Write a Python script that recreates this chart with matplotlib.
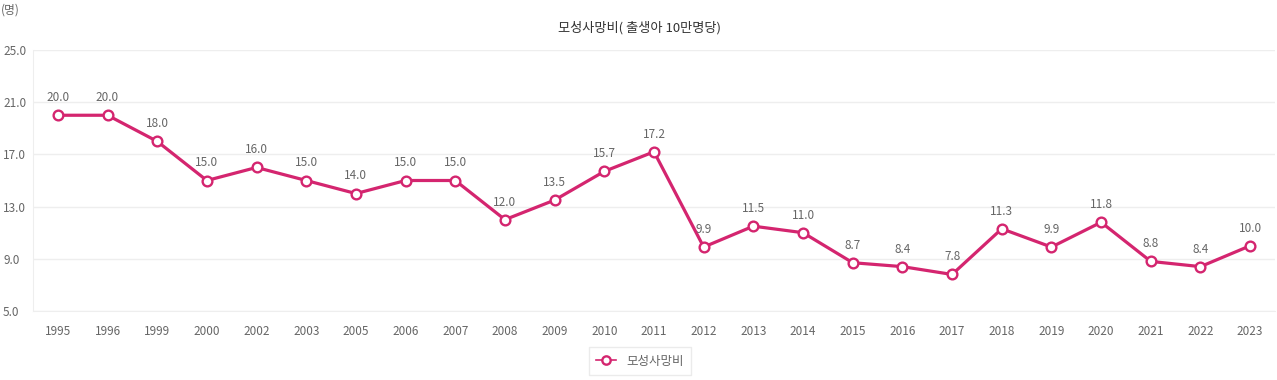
import numpy as np
import matplotlib
matplotlib.use('Agg')
from matplotlib import pyplot as plt

plt.rcParams['font.family'] = ['Noto Sans CJK KR', 'DejaVu Sans']

#---------------------------------DATA----------------------------------------------------------------
years = ['1995', '1996', '1999', '2000', '2002', '2003', '2005', '2006', '2007', '2008',
         '2009', '2010', '2011', '2012', '2013', '2014', '2015', '2016', '2017', '2018',
         '2019', '2020', '2021', '2022', '2023']
ratio = [20.0, 20.0, 18.0, 15.0, 16.0, 15.0, 14.0, 15.0, 15.0, 12.0,
         13.5, 15.7, 17.2, 9.9, 11.5, 11.0, 8.7, 8.4, 7.8, 11.3,
         9.9, 11.8, 8.8, 8.4, 10.0]
yticks = [5.0, 9.0, 13.0, 17.0, 21.0, 25.0]

line_color = '#d4256f'
text_color = '#666666'

#---------------------------------PLOT----------------------------------------------------------------
fig = plt.figure(figsize=(12.77, 3.8), dpi=100)
ax = fig.add_axes([33/1277, 1 - 311/380, 1242/1277, 261/380])

x = np.arange(len(years))
ax.plot(x, ratio, color=line_color, lw=2.3, marker='o', ms=7,
        mfc='white', mec=line_color, mew=1.7, label='모성사망비', zorder=3)

for xi, v in zip(x, ratio):
    ax.annotate(f'{v:.1f}', (xi, v), xytext=(0, 8), textcoords='offset points',
                ha='center', va='bottom', fontsize=8.5, color=text_color)

ax.set_xlim(-0.5, len(years) - 0.5)
ax.set_ylim(5, 25)
ax.set_xticks(x)
ax.set_xticklabels(years)
ax.set_yticks(yticks)
ax.set_yticklabels([f'{t:.1f}' for t in yticks])
ax.tick_params(axis='both', length=0, labelsize=8.5, colors=text_color)
ax.tick_params(axis='x', pad=10)
ax.tick_params(axis='y', pad=30 * 0.72)
for lbl in ax.get_yticklabels():
    lbl.set_horizontalalignment('left')
ax.grid(axis='y', color='#eeeeee', lw=1)
ax.set_axisbelow(True)
for s in ['top', 'right']:
    ax.spines[s].set_visible(False)
ax.spines['left'].set_color('#eeeeee')
ax.spines['bottom'].set_color('#eeeeee')

fig.text(640/1277, 1 - 28/380, '모성사망비( 출생아 10만명당)', ha='center', va='center',
         fontsize=9.5, color='#333333')
fig.text(1/1277, 1 - 10/380, '(명)', ha='left', va='center', fontsize=8.5, color=text_color)

leg = ax.legend(loc='center', bbox_to_anchor=(640/1277, 1 - 361/380),
                bbox_transform=fig.transFigure, frameon=True, fontsize=9,
                handlelength=1.6, borderpad=0.6, fancybox=False)
leg.get_frame().set_edgecolor('#e6e6e6')
leg.get_frame().set_linewidth(1)
for t in leg.get_texts():
    t.set_color(text_color)
leg.get_lines()[0].set_linewidth(1.2)
leg.get_lines()[0].set_markersize(6)

plt.savefig('out.png', dpi=100)
